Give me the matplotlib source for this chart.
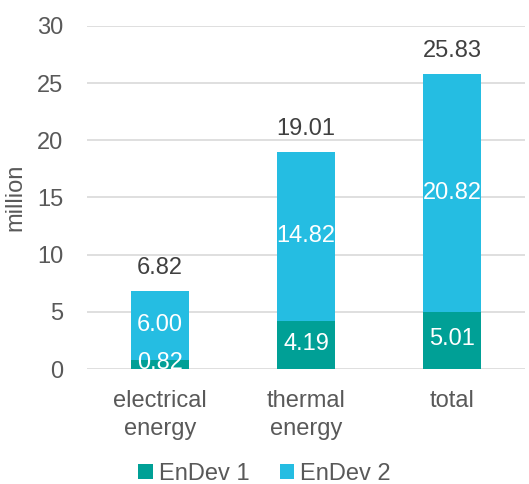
import matplotlib.pyplot as plt
import numpy as np

plt.rcParams['font.family'] = ['Liberation Sans', 'DejaVu Sans']

categories = ['electrical\nenergy', 'thermal\nenergy', 'total']
endev1 = [0.82, 4.19, 5.01]
endev2 = [6.00, 14.82, 20.82]
totals = [6.82, 19.01, 25.83]

c1 = '#00A096'
c2 = '#25BDE2'
txt = '#595959'
fs = 17

fig = plt.figure(figsize=(5.29, 4.84), dpi=100)
ax = fig.add_axes([87 / 529, 115 / 484, 438 / 529, 343 / 484])

x = np.arange(len(categories))
b1 = ax.bar(x, endev1, width=0.4, color=c1, label='EnDev 1', zorder=3)
b2 = ax.bar(x, endev2, width=0.4, bottom=endev1, color=c2, label='EnDev 2', zorder=3)

for i in range(len(x)):
    ax.text(x[i], endev1[i] / 2 + 0.1, f'{endev1[i]:.2f}', ha='center', va='center',
            color='white', fontsize=fs, zorder=4)
    ax.text(x[i], endev1[i] + endev2[i] / 2, f'{endev2[i]:.2f}', ha='center',
            va='center', color='white', fontsize=fs, zorder=4)
    ax.text(x[i], totals[i] + 2.0, f'{totals[i]:.2f}', ha='center', va='center',
            color='#404040', fontsize=fs)

ax.set_xlim(-0.5, 2.5)
ax.set_ylim(0, 30)
ax.set_yticks(range(0, 31, 5))
ax.set_xticks(x)
ax.set_xticklabels(categories, linespacing=1.35)
ax.tick_params(axis='both', length=0, labelsize=fs, colors=txt)
ax.tick_params(axis='x', pad=15)
ax.tick_params(axis='y', pad=17)
ax.grid(axis='y', color='#D9D9D9', linewidth=1.2, zorder=0)
for s in ax.spines.values():
    s.set_visible(False)
ax.set_ylabel('million', fontsize=fs, color=txt, labelpad=8)

fig.legend(handles=[b1, b2], loc='lower center', bbox_to_anchor=(0.5, -0.045),
           ncol=2, frameon=False, fontsize=fs, labelcolor=txt,
           handlelength=0.6, handleheight=0.6, handletextpad=0.25, columnspacing=1.3)

fig.savefig('out.png', dpi=100)
